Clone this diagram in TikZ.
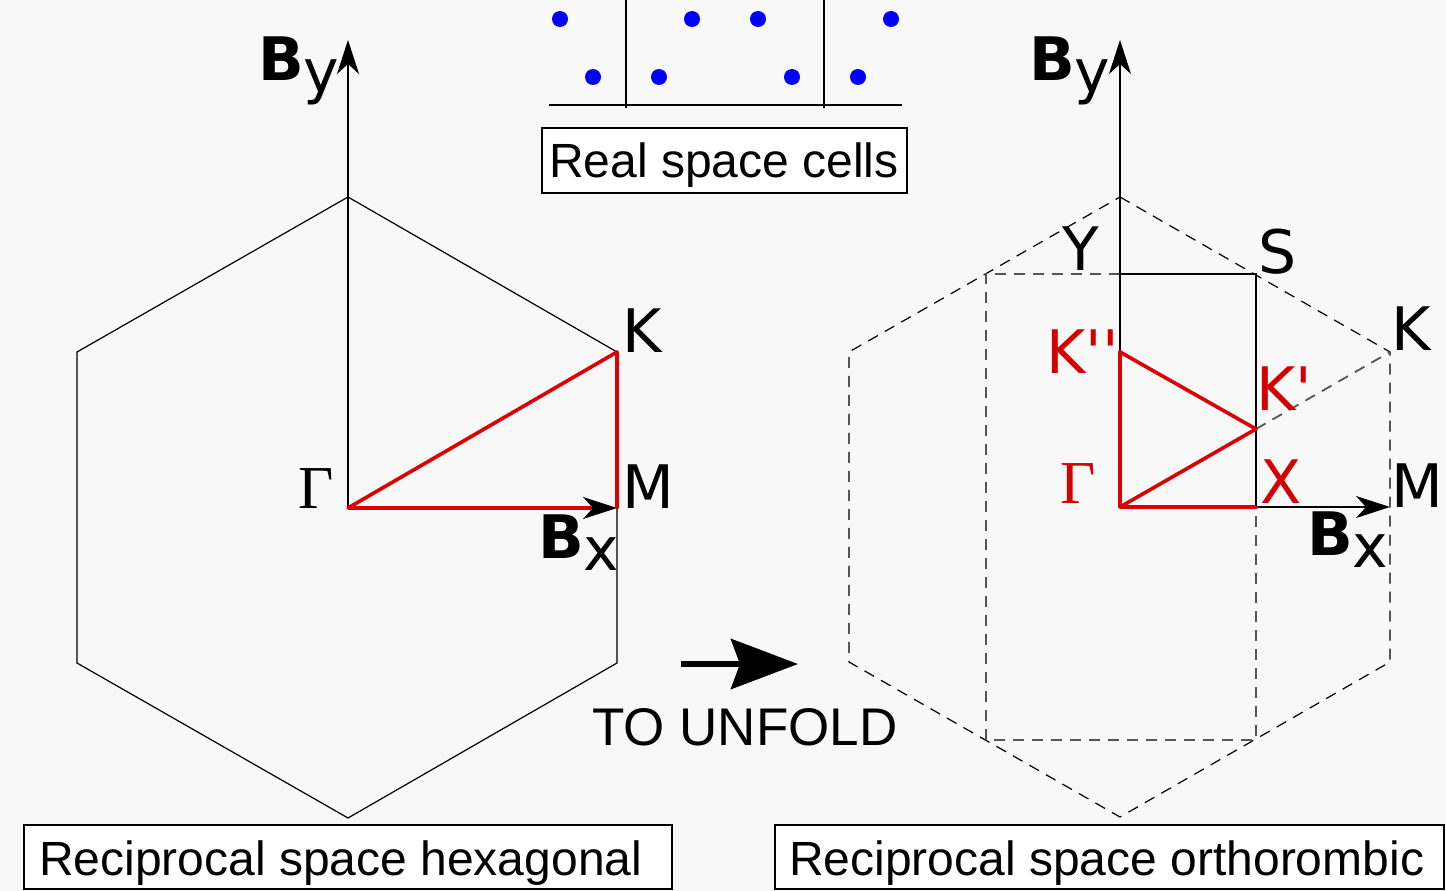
\documentclass[tikz,border=0pt]{standalone}
\usepackage{fontspec}
\setmainfont{Liberation Sans}
\newfontfamily\labfont[Ligatures=TeXOff]{DejaVu Sans}
\newfontfamily\gamfont{Liberation Serif}
\usetikzlibrary{arrows.meta}
\definecolor{bg}{HTML}{F8F8F8}
\definecolor{kred}{HTML}{DD0000}
\definecolor{lred}{HTML}{D40000}
\definecolor{dgray}{HTML}{555555}
\tikzset{
  lab/.style={font=\labfont\fontsize{60}{60}\selectfont, inner sep=0pt, anchor=base west},
  redlab/.style={lab, text=lred},
  gamlab/.style={font=\gamfont\fontsize{61}{61}\selectfont, inner sep=0pt, anchor=base west},
  hexline/.style={line width=1.2pt, black},
  hexdash/.style={line width=1.2pt, black, dash pattern=on 11pt off 8pt},
  rectdash/.style={line width=1.8pt, dgray, dash pattern=on 11pt off 8pt},
  axis/.style={line width=2.3pt, -{Stealth[length=34pt,width=22pt,inset=10pt]}},
  redpath/.style={line width=3.6pt, kred, line join=round, line cap=round},
  box/.style={draw, line width=1.8pt, fill=white, inner sep=0pt},
  boxtext/.style={font=\fontsize{48}{50}\selectfont, inner sep=0pt, anchor=base west},
  bigtext/.style={font=\fontsize{53}{55}\selectfont, inner sep=0pt, anchor=base west},
  dot/.style={circle, fill=blue, inner sep=0pt, minimum size=16pt},
}
\begin{document}
\begin{tikzpicture}[x=1pt, y=-1pt]
\fill[bg] (0,0) rectangle (1446,891);
\useasboundingbox (0,0) rectangle (1446,891);

% ---------- real space cells ----------
\draw[line width=1.5pt] (549,105) -- (902,105);
\draw[line width=1.5pt] (626,0) -- (626,108);
\draw[line width=1.5pt] (824,0) -- (824,108);
\node[dot] (d1) at (560,19) {};
\node[dot] (d2) at (692,19) {};
\node[dot] (d3) at (758,19) {};
\node[dot] (d4) at (891,19) {};
\node[dot] (d5) at (593,77) {};
\node[dot] (d6) at (659,77) {};
\node[dot] (d7) at (792,77) {};
\node[dot] (d8) at (858,77) {};
\node[box, minimum width=365pt, minimum height=65pt] (realbox) at (724.5,160.5) {};
\node[boxtext] (realtext) at (549,177) {Real space cells};

% ---------- left: hexagonal ----------
\coordinate (G) at (348,508);
\coordinate (T) at (348,197);
\coordinate (K) at (617,352);
\coordinate (LR) at (617,663);
\coordinate (B) at (348,818);
\coordinate (LL) at (77,663);
\coordinate (UL) at (77,352);
\coordinate (M) at (617,508);
\coordinate (BYtip) at (348,40);
\draw[hexline] (T) -- (K) -- (LR) -- (B) -- (LL) -- (UL) -- cycle;
\draw[axis] (G) -- (BYtip);
\draw[axis] (G) -- (M);
\draw[redpath] (M) -- (K) -- (G);
\draw[redpath, line cap=butt] (G) -- ([xshift=-26pt]M);

\node[lab] (byL) at (258,81) {{\bfseries B}\raisebox{-12pt}{y}};
\node[lab] (bxL) at (538,558) {{\bfseries B}\raisebox{-12pt}{x}};
\node[lab] (kL) at (622,352) {K};
\node[lab] (mL) at (622,508) {M};
\node[gamlab] (gL) at (298,508) {Γ};

% ---------- arrow ----------
\coordinate (ua) at (681,664);
\coordinate (ub) at (798,664);
\draw[line width=6pt, -{Stealth[length=67pt,width=50pt,inset=9pt]}] (ua) -- (ub);
\node[bigtext] (unfold) at (592,745) {TO UNFOLD};

% ---------- right: orthorhombic ----------
\coordinate (G2) at (1120,507);
\coordinate (T2) at (1120,197);
\coordinate (K2) at (1390,352);
\coordinate (LR2) at (1390,662);
\coordinate (B2) at (1120,817);
\coordinate (LL2) at (849,662);
\coordinate (UL2) at (849,352);
\coordinate (Y) at (1120,274);
\coordinate (S) at (1256,274);
\coordinate (X) at (1256,507);
\coordinate (Kp) at (1256,429);
\coordinate (Kpp) at (1120,352);
\coordinate (M2) at (1390,507);
\coordinate (RTL) at (986,274);
\coordinate (RBL) at (986,740);
\coordinate (RBR) at (1256,740);
\coordinate (BYtip2) at (1120,40);

\draw[hexdash] (T2) -- (K2) -- (LR2) -- (B2) -- (LL2) -- (UL2) -- cycle;
\draw[rectdash] (Y) -- (RTL) -- (RBL) -- (RBR) -- (X);
\draw[rectdash] (Kp) -- (K2);
\draw[line width=1.8pt] (Y) -- (S) -- (X);
\draw[axis] (G2) -- (BYtip2);
\draw[axis] (X) -- (M2);
\draw[redpath] (Kpp) -- (G2) -- (X);
\draw[redpath] (G2) -- (Kp) -- (Kpp);

\node[lab] (byR) at (1029,81) {{\bfseries B}\raisebox{-12pt}{y}};
\node[lab] (bxR) at (1307,555) {{\bfseries B}\raisebox{-12pt}{x}};
\node[lab] (yR) at (1062,270) {Y};
\node[lab] (sR) at (1258,273) {S};
\node[lab] (kR) at (1391,350) {K};
\node[lab] (mR) at (1391,507) {M};
\node[redlab] (kppR) at (1046,373) {K''};
\node[redlab] (kpR) at (1256,410) {K'};
\node[redlab] (xR) at (1260,503) {X};
\node[gamlab, text=lred] (gR) at (1060,503) {Γ};

% ---------- bottom boxes ----------
\node[box, minimum width=648pt, minimum height=64pt] (hexbox) at (348,857) {};
\node[boxtext] (hextext) at (39,875) {Reciprocal space hexagonal};
\node[box, minimum width=669pt, minimum height=64pt] (orthobox) at (1109.5,857) {};
\node[boxtext] (orthotext) at (789,875) {Reciprocal space orthorombic};
\end{tikzpicture}
\end{document}
